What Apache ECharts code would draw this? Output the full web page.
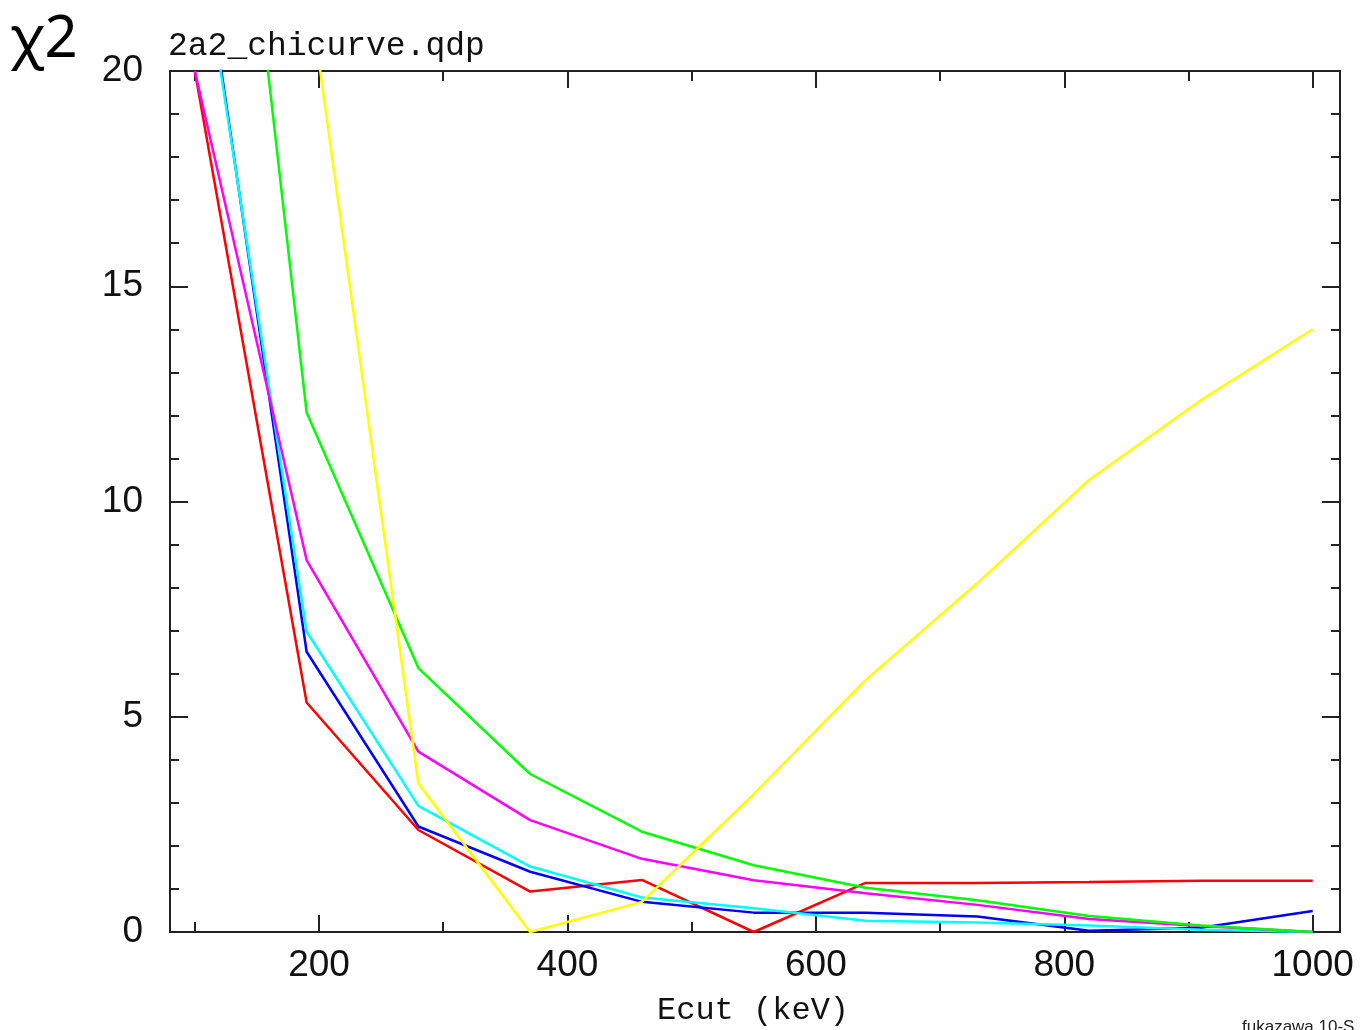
<!DOCTYPE html>
<html>
<head>
<meta charset="utf-8">
<title>2a2_chicurve.qdp</title>
<script src="https://cdn.jsdelivr.net/npm/echarts@6/dist/echarts.min.js"></script>
<style>
  html, body { margin: 0; padding: 0; background: #ffffff; }
  #chart { width: 1360px; height: 1030px; }
</style>
</head>
<body>
<div id="chart"></div>
<script>
// Cutoff energy grid (keV)
const ecut = [100, 190, 280, 370, 460, 550, 640, 730, 820, 910, 1000];

// Chi-square curves, one per fit
const chiRed     = [20.0, 5.33, 2.37, 0.94, 1.21, 0.00, 1.14, 1.14, 1.16, 1.19, 1.19];
const chiBlue    = [24.2, 6.51, 2.45, 1.40, 0.70, 0.45, 0.45, 0.36, 0.03, 0.10, 0.49];
const chiCyan    = [23.9, 6.98, 2.93, 1.52, 0.80, 0.55, 0.26, 0.22, 0.15, 0.05, 0.00];
const chiMagenta = [20.0, 8.64, 4.19, 2.60, 1.70, 1.20, 0.90, 0.63, 0.30, 0.14, 0.00];
const chiGreen   = [35.0, 12.07, 6.13, 3.67, 2.33, 1.55, 1.03, 0.74, 0.37, 0.15, 0.00];
const chiYellow  = [45.0, 22.3, 3.45, 0.00, 0.70, 3.20, 5.85, 8.10, 10.50, 12.35, 14.00];

// Tick positions
const xMajorTicks = [200, 400, 600, 800, 1000];
const xMinorTicks = [100, 300, 500, 700, 900];

const titleText = '2a2_chicurve.qdp';
const xName = 'Ecut (keV)';
const yName = 'χ2';
const footer = 'fukazawa 10-S';

const X_MIN = 80, X_MAX = 1022;
const ink = '#222222';

function pairs(ys) { return ecut.map((x, i) => [x, ys[i]]); }

function xAxisDef(position, ticks, len, showLine, showLabels) {
  return {
    type: 'value', position: position, min: X_MIN, max: X_MAX,
    axisLine: { show: showLine, onZero: false, lineStyle: { color: ink, width: 2 } },
    axisTick: { show: true, inside: true, length: len, customValues: ticks,
                lineStyle: { color: ink, width: 2 } },
    axisLabel: { show: showLabels, customValues: ticks, margin: 15,
                 formatter: (v) => String(v),
                 fontFamily: 'Liberation Sans', fontSize: 37, color: '#111' },
    splitLine: { show: false }
  };
}

function yAxisDef(position, showLabels) {
  return {
    type: 'value', position: position, min: 0, max: 20, interval: 5,
    axisLine: { show: true, lineStyle: { color: ink, width: 2 } },
    axisTick: { show: true, inside: true, length: 18, lineStyle: { color: ink, width: 2 } },
    minorTick: { show: true, splitNumber: 5, length: 9, lineStyle: { color: ink, width: 2 } },
    axisLabel: { show: showLabels, margin: 27, formatter: (v) => String(v),
                 fontFamily: 'Liberation Sans', fontSize: 37, color: '#111' },
    splitLine: { show: false },
    minorSplitLine: { show: false }
  };
}

function curve(name, color, ys) {
  return {
    name: name, type: 'line', data: pairs(ys),
    xAxisIndex: 0, yAxisIndex: 0,
    symbol: 'none', clip: true, silent: true,
    lineStyle: { color: color, width: 2.5 }
  };
}

const chart = echarts.init(document.getElementById('chart'), null, { renderer: 'canvas' });
chart.setOption({
  animation: false,
  backgroundColor: '#ffffff',
  grid: { left: 170, top: 71, width: 1170, height: 861, containLabel: false },
  xAxis: [
    xAxisDef('bottom', xMajorTicks, 17, true, true),
    xAxisDef('bottom', xMinorTicks, 10, false, false),
    xAxisDef('top', xMajorTicks, 17, true, false),
    xAxisDef('top', xMinorTicks, 10, false, false)
  ],
  yAxis: [
    yAxisDef('left', true),
    yAxisDef('right', false)
  ],
  graphic: [
    { type: 'text', left: 168, top: 30,
      style: { text: titleText, fontFamily: 'Liberation Mono', fontSize: 33, fill: '#111' } },
    { type: 'text', left: 657, top: 995,
      style: { text: xName, fontFamily: 'Liberation Mono', fontSize: 32, fill: '#111' } },
    { type: 'text', left: 10, top: 11,
      style: { text: yName, fontFamily: 'Noto Sans', fontSize: 58, fill: '#000' } },
    { type: 'text', left: 1242, top: 1019,
      style: { text: footer, fontFamily: 'Liberation Sans', fontSize: 17, fill: '#222' } }
  ],
  series: [
    curve('red', '#ff0000', chiRed),
    curve('blue', '#0000ff', chiBlue),
    curve('cyan', '#00ffff', chiCyan),
    curve('magenta', '#ff00ff', chiMagenta),
    curve('green', '#00ff00', chiGreen),
    curve('yellow', '#ffff00', chiYellow)
  ]
});
</script>
</body>
</html>
